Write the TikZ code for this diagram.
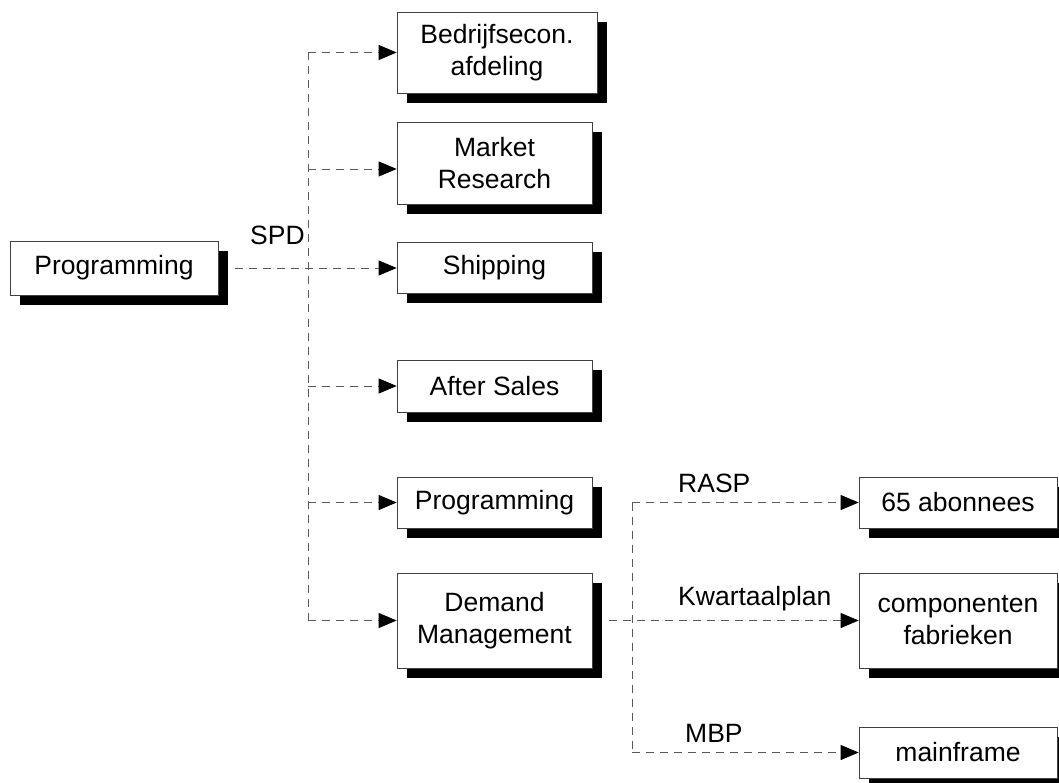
\documentclass[tikz,border=0pt]{standalone}
\usepackage{fontspec}
\setmainfont{Liberation Sans}
\usetikzlibrary{arrows.meta,shadows}
\begin{document}
\begin{tikzpicture}[x=1pt,y=-1pt,
  box/.style={draw=black!75, line width=0.7pt, fill=white, align=center,
    inner sep=0pt, font=\fontsize{26.5}{32}\selectfont,
    drop shadow={shadow xshift=10pt, shadow yshift=-10pt, fill=black, opacity=1}},
  dl/.style={draw=black!65, line width=0.8pt, dash pattern=on 8pt off 6pt},
  arr/.style={dl, -{Triangle[length=18pt,width=15pt,fill=black,color=black]}},
  lbl/.style={anchor=base west, inner sep=0pt, font=\fontsize{26.5}{32}\selectfont}]
\useasboundingbox (0,0) rectangle (1059,783);
\fill[white] (0,0) rectangle (1059,783);

\node[box, minimum width=208pt, minimum height=54pt] (P0) at (114,268) {Programming};

\node[box, minimum width=200pt, minimum height=81pt] (B1) at (497,52.5) {Bedrijfsecon.\\afdeling};
\node[box, minimum width=195pt, minimum height=82pt] (B2) at (494.5,163) {Market\\Research};
\node[box, minimum width=195pt, minimum height=51pt] (B3) at (494.5,268) {Shipping};
\node[box, minimum width=195pt, minimum height=52pt] (B4) at (494.5,386) {After Sales};
\node[box, minimum width=195pt, minimum height=51pt] (B5) at (494.5,502.5) {Programming};
\node[box, minimum width=195pt, minimum height=95pt] (B6) at (494.5,620.5) {Demand\\Management};

\node[box, minimum width=198pt, minimum height=51pt] (R1) at (958,502.5) {65 abonnees};
\node[box, minimum width=198pt, minimum height=95pt] (R2) at (958,620.5) {componenten\\fabrieken};
\node[box, minimum width=198pt, minimum height=51pt] (R3) at (958,752.5) {mainframe};

\coordinate (ttop) at (308,52.5);
\coordinate (tbot) at (308,620.5);
\coordinate (utop) at (632,502.5);
\coordinate (ubot) at (632,752.5);

\draw[dl] (ttop) -- (tbot);
\draw[arr] ([xshift=17pt]P0.east) -- (B3.west);
\draw[arr] (B1.west -| ttop) -- (B1.west);
\draw[arr] ([yshift=-6pt]B2.west -| ttop) -- ([yshift=-6pt]B2.west);
\draw[arr] (B4.west -| ttop) -- (B4.west);
\draw[arr] (B5.west -| ttop) -- (B5.west);
\draw[arr] (B6.west -| ttop) -- (B6.west);

\draw[dl] (utop) -- (ubot);
\draw[arr] (R1.west -| utop) -- (R1.west);
\draw[arr] ([xshift=17pt]B6.east) -- (R2.west);
\draw[arr] (R3.west -| utop) -- (R3.west);

\node[lbl] (spd) at (250,245) {SPD};
\node[lbl] (rasp) at (678,492) {RASP};
\node[lbl] (kwp) at (678,605) {Kwartaalplan};
\node[lbl] (mbp) at (685,742) {MBP};
\end{tikzpicture}
\end{document}
